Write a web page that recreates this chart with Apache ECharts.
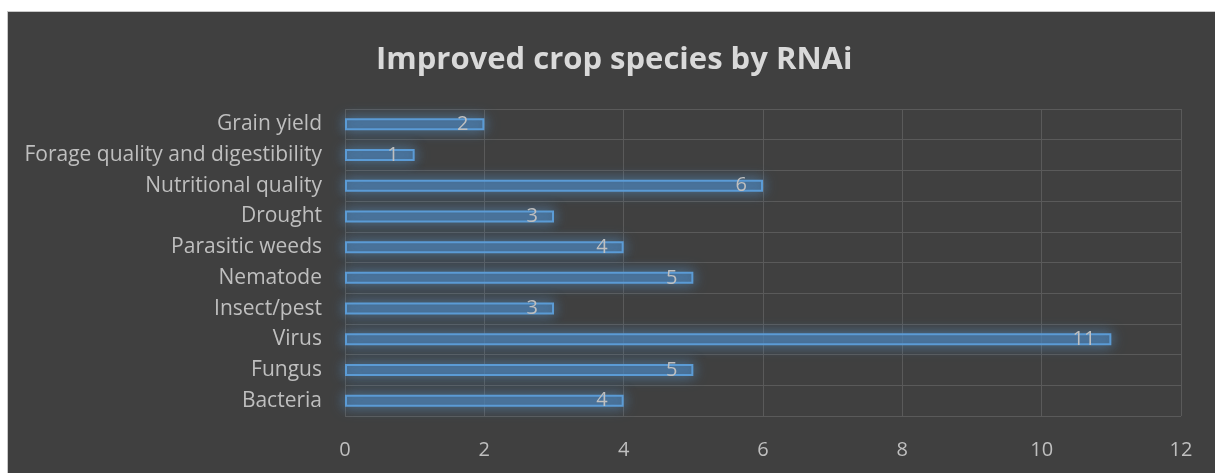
<!DOCTYPE html>
<html>
<head>
<meta charset="utf-8">
<script src="https://cdn.jsdelivr.net/npm/echarts@6/dist/echarts.min.js"></script>
<style>
  html, body { margin: 0; padding: 0; background: #ffffff; }
  #frame {
    position: absolute; left: 7px; top: 11px; right: 0; bottom: 0;
    background: #404040;
    border-left: 1px solid #c8c8c8; border-top: 1px solid #c8c8c8;
  }
  #chart { position: absolute; left: 0; top: 0; width: 1215px; height: 473px; }
</style>
</head>
<body>
<div id="frame"></div>
<div id="chart"></div>
<script>
// Categories listed top to bottom
const categories = [
  'Grain yield',
  'Forage quality and digestibility',
  'Nutritional quality',
  'Drought',
  'Parasitic weeds',
  'Nematode',
  'Insect/pest',
  'Virus',
  'Fungus',
  'Bacteria'
];
// Number of improved crop species per trait
const counts = [2, 1, 6, 3, 4, 5, 3, 11, 5, 4];
const xTicks = { min: 0, max: 12, interval: 2 };

const chart = echarts.init(document.getElementById('chart'), null, { renderer: 'canvas' });

const textFont = '"Open Sans", "Noto Sans", sans-serif';
const gridColor = '#5a5a5a';
const labelColor = '#bfbfbf';

chart.setOption({
  backgroundColor: 'transparent',
  animation: false,
  title: {
    text: 'Improved crop species by RNAi',
    left: 371,
    top: 40,
    textStyle: {
      color: '#d9d9d9',
      fontFamily: textFont,
      fontWeight: 'bold',
      fontSize: 31
    }
  },
  grid: { left: 345, right: 34, top: 109, bottom: 57, containLabel: false },
  xAxis: {
    type: 'value',
    min: xTicks.min,
    max: xTicks.max,
    interval: xTicks.interval,
    axisLine: { show: false },
    axisTick: { show: false },
    axisLabel: { color: labelColor, fontFamily: textFont, fontSize: 20, margin: 24 },
    splitLine: { show: true, lineStyle: { color: gridColor, width: 1 } }
  },
  yAxis: {
    type: 'category',
    data: categories,
    inverse: true,
    axisLine: { show: false },
    axisTick: { show: false },
    axisLabel: { color: labelColor, fontFamily: textFont, fontSize: 21, margin: 23 },
    splitLine: { show: true, lineStyle: { color: gridColor, width: 1 } }
  },
  series: [{
    type: 'bar',
    data: counts,
    barWidth: 12,
    itemStyle: {
      color: 'rgba(70, 120, 170, 0.6)',
      borderColor: '#5b9bd5',
      borderWidth: 2,
      shadowBlur: 14,
      shadowColor: 'rgba(91, 155, 213, 0.85)'
    },
    label: {
      show: true,
      position: 'insideRight',
      distance: 16,
      color: labelColor,
      fontFamily: textFont,
      fontSize: 20,
      formatter: p => String(p.value)
    }
  }]
});
</script>
</body>
</html>
